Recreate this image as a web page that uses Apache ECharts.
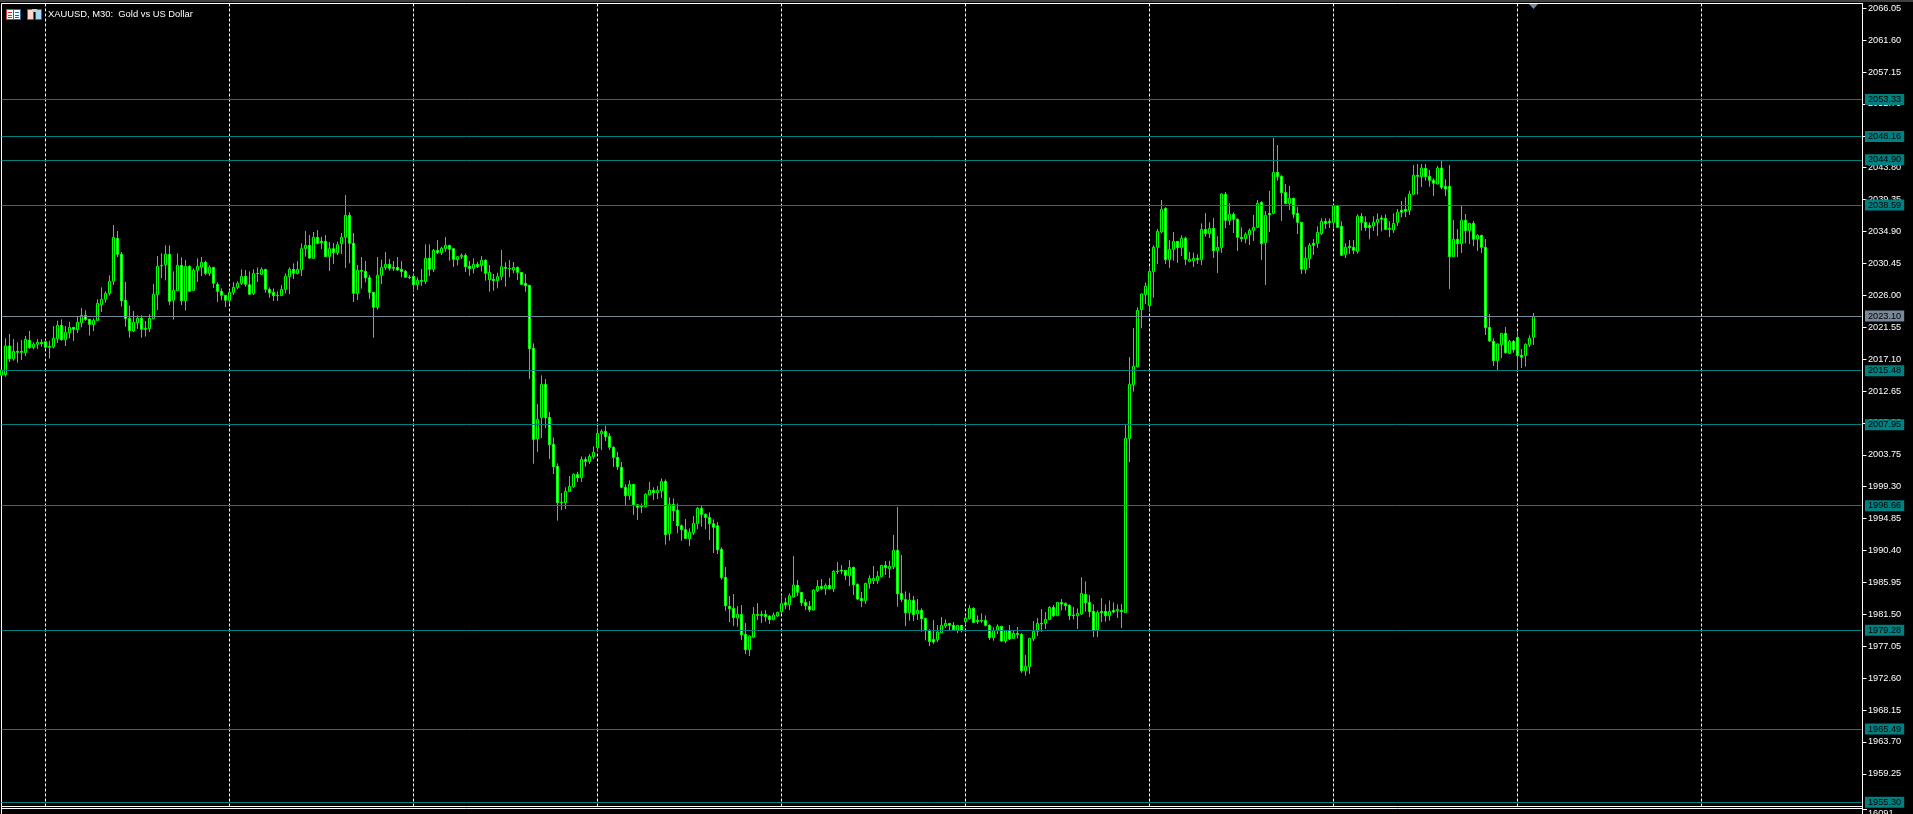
<!DOCTYPE html>
<html>
<head>
<meta charset="utf-8">
<style>html,body{margin:0;padding:0;background:#000;overflow:hidden}#c{width:1913px;height:814px}</style>
<script src="https://cdn.jsdelivr.net/npm/echarts@6/dist/echarts.min.js"></script>
</head>
<body>
<div id="c"></div>
<script>
const chartTitle = 'XAUUSD, M30:  Gold vs US Dollar';
const tickLabels = ['2066.05','2061.60','2057.15','2052.70','2048.25','2043.80','2039.35','2034.90','2030.45','2026.00','2021.55','2017.10','2012.65','2008.20','2003.75','1999.30','1994.85','1990.40','1985.95','1981.50','1977.05','1972.60','1968.15','1963.70','1959.25'];
const levelPrices = [2053.33,2048.16,2044.90,2038.59,2015.48,2007.95,1996.66,1979.28,1965.49,1955.30];
const lastPrice = 2023.10;
const volumeLabel = '16091';
const barDirections = [
'uududduduu','ddduuduudu','udduuuuuud','ddduudduuu','uuduududuu',
'ududddduuu','uddududddd','uuuduuudud','dduduuuddu','dddduuuddd',
'ddddududud','uudduuddud','ududuuddud','dddduudddd','duuududuuu',
'uddddddudd','duuduududd','dduuuddddd','ddddudduud','ddduuuduud',
'ddduududud','dduddduuuu','uduudddudu','dddduuuddu','duuddddduu',
'dududduuuu','duududdddu','uddduddudu','duuuuuuuuu','uduududuud',
'ududuududd','duuuududud','dduddduudu','uddudduddu','ddduuddduu',
'dduududddu','dddudududu','dddduududd','duuu'
].join('');
const highs = [
2015.58,2020.00,2020.60,2019.90,2019.44,2019.76,2020.32,2021.02,2019.44,2019.90,
2019.90,2019.76,2019.67,2021.72,2022.46,2022.65,2021.72,2022.28,2021.53,2023.11,
2024.23,2023.90,2022.65,2022.79,2025.44,2027.11,2026.55,2028.79,2035.81,2034.97,
2032.04,2027.86,2024.55,2023.81,2023.21,2023.21,2022.42,2023.35,2027.58,2031.48,
2031.85,2032.97,2032.97,2029.34,2031.85,2031.30,2030.92,2030.18,2029.76,2031.16,
2031.34,2030.83,2030.18,2029.95,2027.81,2026.97,2026.00,2026.74,2027.81,2027.95,
2029.62,2029.53,2029.34,2029.62,2029.90,2029.90,2029.67,2027.11,2026.97,2026.55,
2027.44,2029.06,2029.90,2030.46,2030.79,2033.25,2034.97,2034.41,2034.83,2035.11,
2034.18,2034.41,2033.44,2033.30,2033.48,2034.69,2039.99,2037.57,2034.69,2030.23,
2031.34,2030.79,2028.83,2026.41,2031.34,2030.97,2032.04,2031.06,2030.79,2031.34,
2030.79,2029.53,2028.83,2029.06,2028.51,2029.67,2033.11,2033.11,2032.46,2033.71,
2032.79,2034.13,2033.02,2032.55,2031.44,2031.85,2031.85,2030.79,2031.16,2030.65,
2031.48,2031.02,2030.23,2028.97,2029.16,2032.32,2030.60,2030.92,2030.65,2029.99,
2029.25,2028.97,2027.39,2019.29,2010.83,2014.83,2014.32,2009.72,2006.18,2002.55,
1998.42,1999.21,2000.79,2001.16,2001.39,2003.53,2003.48,2003.86,2004.93,2007.58,
2007.30,2007.81,2006.74,2004.93,2004.14,2002.74,1999.63,2000.18,1999.67,1996.84,
1996.97,1998.37,1999.95,1999.21,1999.39,2000.46,2000.32,1997.81,1997.67,1996.97,
1994.05,1994.79,1993.49,1995.21,1996.46,1996.74,1995.58,1995.72,1994.74,1994.37,
1990.84,1988.09,1984.05,1984.33,1982.65,1982.79,1980.28,1978.56,1982.51,1983.07,
1982.00,1982.09,1981.35,1981.72,1981.86,1984.19,1983.82,1984.42,1989.63,1986.28,
1984.56,1983.63,1983.35,1985.02,1986.28,1986.42,1985.81,1986.56,1987.67,1988.79,
1988.37,1987.67,1989.07,1988.14,1985.81,1984.61,1985.91,1986.93,1988.23,1987.54,
1988.37,1988.93,1988.98,1992.56,1996.46,1989.77,1984.70,1984.51,1984.05,1983.63,
1982.33,1981.03,1979.40,1980.70,1980.00,1981.12,1980.79,1980.28,1980.42,1980.00,
1980.00,1981.35,1982.75,1982.47,1981.35,1981.63,1981.35,1980.10,1979.68,1980.10,
1979.86,1979.26,1980.00,1979.26,1979.72,1978.89,1975.82,1978.14,1980.56,1980.98,
1982.23,1981.82,1982.65,1982.79,1983.16,1983.63,1983.16,1982.89,1982.51,1982.33,
1986.65,1986.09,1984.19,1982.89,1982.05,1983.77,1982.89,1983.44,1983.16,1982.89,
1982.94,2008.00,2017.39,2021.44,2024.32,2026.27,2027.81,2029.90,2032.97,2035.25,
2039.29,2038.27,2033.71,2034.83,2033.53,2034.37,2034.18,2032.04,2031.95,2031.72,
2036.04,2037.48,2036.18,2036.78,2034.23,2040.22,2040.41,2038.83,2037.57,2036.74,
2035.48,2034.78,2035.34,2037.20,2039.29,2039.11,2037.76,2040.55,2047.94,2046.97,
2042.74,2041.53,2041.25,2039.62,2038.32,2036.23,2032.74,2033.30,2033.85,2035.62,
2036.74,2036.74,2036.74,2038.55,2038.55,2036.32,2033.25,2033.71,2033.71,2037.30,
2037.48,2037.02,2036.18,2037.02,2037.43,2037.16,2037.30,2036.32,2037.43,2038.04,
2039.15,2039.67,2040.55,2044.18,2044.32,2044.32,2044.32,2043.48,2042.32,2044.04,
2044.87,2042.18,2044.18,2036.50,2035.25,2038.46,2037.34,2036.09,2036.37,2034.51,
2034.41,2033.85,2023.39,2020.00,2019.30,2020.74,2021.58,2019.76,2019.76,2020.88,
2018.51,2019.30,2020.42,2023.53
];
const bodyTops = [
2015.58,2018.93,2018.93,2018.18,2018.18,2018.18,2019.86,2019.72,2019.16,2019.44,
2019.44,2019.53,2018.88,2020.00,2021.81,2021.81,2020.83,2021.53,2021.53,2022.23,
2023.21,2023.21,2022.65,2022.51,2024.88,2025.44,2026.27,2027.95,2034.09,2033.95,
2031.72,2025.30,2022.79,2022.23,2022.79,2022.79,2021.39,2022.79,2026.14,2030.04,
2030.18,2031.72,2031.72,2026.69,2030.18,2030.18,2030.04,2030.04,2029.48,2030.04,
2030.60,2030.60,2029.90,2029.90,2027.53,2026.55,2026.00,2026.41,2027.11,2027.67,
2028.65,2028.65,2027.48,2029.06,2029.06,2029.62,2029.62,2026.83,2026.41,2026.00,
2026.83,2028.65,2029.62,2029.62,2029.62,2032.51,2032.97,2032.97,2034.09,2034.09,
2033.53,2033.53,2032.51,2032.51,2033.06,2034.09,2037.16,2037.16,2033.25,2029.48,
2029.48,2029.34,2028.46,2026.41,2028.79,2029.90,2030.32,2030.32,2029.90,2029.90,
2029.62,2029.34,2028.51,2028.65,2028.09,2028.09,2031.16,2031.16,2032.27,2032.27,
2032.55,2032.97,2032.97,2032.51,2031.39,2031.58,2031.58,2030.04,2030.32,2030.32,
2030.88,2030.88,2029.20,2028.23,2028.60,2029.99,2029.90,2029.76,2029.90,2029.90,
2029.20,2027.67,2027.39,2018.60,2008.69,2013.58,2013.58,2008.97,2005.21,2002.14,
1997.11,1998.65,1999.35,2001.02,2001.02,2003.11,2003.11,2003.53,2004.09,2006.74,
2007.02,2007.02,2006.32,2004.79,2003.39,2002.00,1999.21,1999.63,1999.63,1996.79,
1996.65,1998.23,1998.79,1998.79,1998.79,2000.04,2000.04,1996.84,1996.84,1996.00,
1993.86,1993.30,1992.93,1994.18,1996.28,1996.28,1995.44,1995.02,1994.14,1993.86,
1990.56,1986.65,1982.61,1982.33,1981.49,1981.49,1978.70,1978.47,1981.49,1981.49,
1981.49,1981.49,1981.26,1981.40,1981.77,1982.98,1983.12,1984.09,1985.58,1985.54,
1984.56,1983.16,1982.61,1984.88,1985.40,1985.40,1985.54,1985.54,1987.49,1987.54,
1987.67,1987.63,1988.05,1988.05,1985.68,1983.72,1985.81,1986.51,1986.51,1986.79,
1988.33,1988.33,1988.19,1990.42,1990.42,1984.42,1983.58,1983.49,1983.44,1982.05,
1982.05,1980.93,1979.26,1978.00,1979.03,1979.96,1980.24,1980.24,1979.96,1979.96,
1979.96,1980.93,1982.33,1982.33,1980.65,1980.65,1980.65,1979.96,1979.21,1979.82,
1979.82,1979.17,1979.17,1978.84,1978.84,1978.70,1974.24,1978.14,1979.12,1980.24,
1980.24,1980.79,1982.47,1982.47,1983.16,1983.16,1983.02,1982.75,1981.40,1981.63,
1984.42,1984.28,1983.16,1981.91,1981.77,1981.91,1981.91,1981.91,1982.05,1982.19,
1982.05,2006.05,2013.58,2016.09,2023.90,2026.18,2027.25,2029.34,2032.69,2034.92,
2037.99,2038.13,2032.41,2033.53,2033.53,2033.95,2033.95,2031.02,2031.16,2031.16,
2035.20,2035.20,2035.34,2035.34,2032.69,2040.13,2040.09,2037.30,2037.30,2036.60,
2034.09,2034.51,2035.06,2035.48,2038.83,2038.97,2037.16,2037.43,2043.15,2043.15,
2042.60,2040.36,2039.53,2039.53,2037.43,2036.18,2031.16,2032.97,2033.25,2034.78,
2036.32,2036.32,2036.32,2038.55,2038.55,2035.62,2032.69,2032.83,2032.69,2037.02,
2037.02,2036.18,2035.76,2036.18,2036.60,2036.78,2036.74,2035.34,2036.04,2037.57,
2037.85,2037.99,2040.13,2042.74,2042.74,2043.76,2043.71,2042.60,2042.04,2043.76,
2043.76,2041.20,2041.20,2033.81,2033.81,2036.46,2036.46,2036.04,2036.04,2034.37,
2034.37,2032.69,2021.53,2019.58,2019.21,2020.70,2020.70,2019.58,2019.58,2020.14,
2017.63,2019.16,2020.00,2023.07
];
const bodyBottoms = [
2014.84,2014.93,2017.16,2017.16,2018.04,2018.04,2018.00,2018.70,2018.74,2019.16,
2019.25,2018.74,2018.74,2018.83,2019.95,2019.81,2019.81,2020.79,2021.25,2021.21,
2022.18,2022.60,2021.95,2021.90,2022.46,2024.69,2025.44,2026.27,2027.95,2031.72,
2025.25,2022.74,2021.07,2021.02,2022.18,2021.25,2021.25,2021.35,2022.74,2026.09,
2030.09,2030.27,2025.16,2025.30,2026.65,2025.25,2025.25,2026.55,2026.69,2029.48,
2029.90,2029.06,2029.06,2027.67,2026.55,2026.00,2025.30,2025.30,2026.41,2027.11,
2027.67,2027.53,2026.14,2026.23,2029.02,2028.93,2026.83,2026.32,2025.95,2025.95,
2025.95,2026.83,2028.60,2029.06,2029.02,2029.58,2032.51,2031.20,2031.16,2033.25,
2033.34,2031.39,2031.44,2031.95,2031.95,2033.20,2034.09,2033.25,2026.27,2026.27,
2029.34,2028.46,2026.41,2024.32,2024.32,2028.79,2029.86,2029.76,2029.76,2029.53,
2029.30,2028.51,2028.46,2027.48,2027.48,2027.95,2027.90,2029.62,2029.62,2031.95,
2031.95,2032.51,2032.41,2031.02,2030.97,2031.39,2029.99,2029.72,2029.76,2029.99,
2030.18,2029.06,2028.18,2028.04,2028.04,2028.65,2029.76,2029.72,2029.53,2029.20,
2027.53,2027.34,2018.56,2005.90,2006.00,2008.93,2008.93,2005.16,2002.09,1997.07,
1997.02,1997.07,1998.65,1999.30,2000.56,2000.56,2002.83,2002.79,2003.48,2004.74,
2006.69,2006.27,2004.79,2003.39,2002.09,1999.21,1998.04,1998.04,1996.79,1996.42,
1996.51,1996.51,1998.18,1998.46,1998.46,1998.74,1992.60,1992.74,1995.95,1993.86,
1993.30,1992.09,1992.05,1992.88,1994.14,1995.44,1995.02,1994.14,1993.63,1990.51,
1986.61,1982.70,1982.28,1981.03,1980.98,1978.65,1976.56,1976.56,1978.33,1981.35,
1981.35,1981.16,1980.75,1980.75,1981.26,1981.86,1982.79,1982.84,1983.91,1984.56,
1983.12,1982.70,1982.14,1982.09,1984.79,1985.07,1985.07,1985.07,1985.07,1987.44,
1987.54,1986.93,1986.88,1985.63,1983.63,1983.40,1983.40,1985.81,1986.19,1986.19,
1986.74,1988.00,1987.86,1988.14,1984.37,1983.58,1981.72,1981.72,1981.44,1981.58,
1980.89,1979.26,1977.72,1977.63,1977.96,1978.93,1979.86,1979.96,1979.35,1979.26,
1979.26,1980.47,1980.89,1980.37,1980.47,1980.56,1979.96,1978.24,1978.24,1979.26,
1977.77,1977.77,1978.05,1978.14,1978.70,1973.63,1973.63,1974.19,1978.10,1979.12,
1980.14,1980.24,1980.79,1981.30,1981.30,1982.93,1982.70,1981.30,1981.30,1981.30,
1981.54,1983.12,1981.86,1979.26,1979.35,1981.72,1981.30,1981.30,1981.82,1982.00,
1981.87,1981.73,2006.00,2013.53,2016.04,2024.00,2026.09,2024.55,2029.30,2032.69,
2034.83,2030.97,2030.97,2032.41,2032.65,2032.65,2031.02,2030.74,2030.83,2030.97,
2030.97,2034.60,2034.60,2032.23,2032.23,2032.65,2036.46,2036.41,2036.60,2034.09,
2033.90,2033.90,2034.46,2035.06,2035.48,2033.20,2033.34,2037.25,2037.43,2042.55,
2040.32,2038.78,2038.78,2037.30,2036.18,2029.62,2029.62,2031.11,2032.97,2033.25,
2034.60,2035.99,2036.13,2036.18,2035.48,2031.58,2031.72,2032.65,2032.27,2032.13,
2036.18,2035.44,2035.44,2035.67,2036.18,2036.60,2035.20,2035.20,2035.11,2036.18,
2037.57,2037.71,2037.85,2040.09,2042.60,2042.55,2042.55,2042.04,2041.62,2041.53,
2041.06,2040.83,2031.39,2031.39,2033.20,2033.20,2035.02,2035.02,2033.81,2033.85,
2032.69,2021.49,2019.63,2016.88,2016.88,2019.11,2018.00,2017.91,2018.42,2017.58,
2017.35,2017.58,2019.11,2020.14
];
const lows = [
2014.74,2014.65,2016.70,2016.88,2016.60,2016.97,2017.53,2018.56,2018.46,2018.51,
2018.83,2018.51,2017.16,2018.60,2019.35,2019.67,2018.93,2020.00,2019.63,2020.74,
2021.53,2022.46,2020.37,2021.02,2022.46,2023.67,2024.97,2025.95,2027.44,2031.34,
2024.41,2021.62,2020.09,2020.88,2021.30,2020.09,2020.23,2020.88,2022.65,2023.95,
2028.41,2028.09,2024.65,2022.60,2026.60,2024.65,2023.86,2026.51,2026.65,2027.86,
2028.69,2028.79,2028.69,2027.02,2025.07,2025.30,2024.37,2024.74,2026.04,2026.83,
2027.44,2027.20,2026.09,2026.04,2027.86,2028.83,2026.37,2025.67,2025.21,2025.21,
2025.90,2026.27,2026.18,2028.27,2028.93,2028.69,2031.39,2031.06,2031.06,2033.11,
2032.46,2031.34,2029.39,2030.37,2031.62,2031.76,2029.81,2030.46,2025.07,2025.34,
2026.93,2027.81,2025.48,2020.09,2024.00,2027.58,2029.53,2029.44,2029.39,2029.39,
2028.51,2028.41,2028.23,2026.51,2026.74,2027.30,2027.58,2028.69,2029.25,2031.76,
2031.62,2032.09,2030.83,2029.95,2030.18,2031.06,2029.25,2028.74,2029.06,2029.81,
2029.30,2028.04,2026.51,2026.65,2026.97,2028.09,2027.20,2028.51,2029.06,2028.13,
2027.44,2026.51,2014.32,2002.51,2004.14,2006.09,2007.48,2003.16,2001.07,1994.56,
1996.04,1996.18,1998.60,1999.16,1999.95,1999.95,2002.09,2002.46,2003.16,2004.28,
2004.41,2005.67,2004.41,2002.04,2001.62,1999.16,1996.60,1997.44,1995.35,1994.65,
1995.63,1996.42,1998.09,1997.44,1997.58,1997.72,1991.21,1991.77,1994.51,1992.79,
1991.77,1992.00,1991.02,1992.56,1993.39,1993.72,1993.35,1991.86,1990.05,1989.91,
1986.33,1982.00,1980.42,1979.86,1979.77,1977.91,1975.96,1975.68,1978.24,1980.70,
1980.28,1980.47,1980.14,1980.65,1981.16,1981.54,1982.23,1982.09,1983.86,1984.05,
1982.65,1982.09,1981.82,1982.00,1984.61,1984.88,1984.19,1984.98,1984.61,1987.12,
1987.12,1986.28,1985.44,1984.19,1983.49,1982.51,1982.93,1985.07,1985.72,1985.72,
1986.65,1986.98,1986.56,1987.81,1982.56,1983.21,1979.86,1980.61,1980.56,1980.70,
1979.07,1977.86,1977.07,1977.35,1977.63,1978.89,1979.58,1979.26,1979.26,1978.89,
1978.98,1980.00,1980.79,1980.28,1980.14,1980.28,1979.82,1977.91,1977.82,1978.75,
1977.63,1977.49,1977.91,1978.05,1978.14,1973.35,1972.93,1973.17,1977.77,1978.47,
1979.07,1979.44,1980.70,1981.16,1981.26,1982.05,1982.05,1980.70,1980.79,1979.44,
1981.40,1981.86,1981.12,1978.33,1978.33,1980.42,1980.47,1980.61,1981.63,1980.98,
1979.59,1981.73,2002.75,2012.56,2015.95,2021.39,2024.79,2023.72,2025.67,2030.37,
2034.64,2030.37,2029.81,2030.83,2030.51,2031.48,2030.23,2030.60,2029.95,2030.37,
2030.23,2034.18,2033.99,2031.20,2029.11,2031.90,2035.39,2035.81,2034.69,2032.18,
2033.44,2033.25,2033.02,2033.58,2035.39,2030.92,2027.44,2034.83,2037.34,2041.99,
2036.37,2038.74,2037.90,2036.74,2034.55,2028.97,2029.02,2029.81,2031.62,2032.60,
2034.41,2035.25,2035.39,2035.39,2035.39,2031.48,2031.20,2031.76,2031.76,2031.81,
2035.02,2034.97,2033.81,2034.97,2034.27,2034.92,2035.06,2034.13,2034.69,2035.67,
2036.88,2036.92,2037.20,2040.09,2040.04,2041.11,2041.99,2041.15,2039.85,2041.48,
2040.78,2039.85,2026.88,2031.39,2031.34,2031.90,2033.25,2033.16,2032.88,2032.18,
2031.90,2020.46,2019.49,2016.14,2015.58,2017.25,2017.86,2017.81,2018.00,2015.58,
2015.86,2016.05,2018.79,2019.07
];

const lens = [barDirections.length, highs.length, bodyTops.length, bodyBottoms.length, lows.length];
if (lens.some(n => n !== lens[0])) throw new Error('length mismatch ' + lens.join(','));

const slotCount = 466;
const slots = Array.from({length: slotCount}, (_, i) => String(i));
const candles = barDirections.split('').map((d, i) => d === 'u'
  ? [bodyBottoms[i], bodyTops[i], lows[i], highs[i]]
  : [bodyTops[i], bodyBottoms[i], lows[i], highs[i]]);

const axisFont = {fontFamily: '"Liberation Sans"', fontSize: 9.2};
const mkLevel = (v, bg) => ({
  yAxis: v,
  lineStyle: {color: bg, width: 1, type: 'solid'},
  label: {
    show: true, position: 'end', distance: 3.5, formatter: v.toFixed(2),
    backgroundColor: bg, color: '#000', padding: [1, 3, 1, 3], lineHeight: 9,
    ...axisFont
  }
});

const white = '#fff';
const line = (x1, y1, x2, y2, stroke) => ({type: 'line', silent: true, shape: {x1, y1, x2, y2}, style: {stroke: stroke || white, lineWidth: 1}});
const rect = (x, y, width, height, fill, stroke) => ({type: 'rect', silent: true, shape: {x, y, width, height}, style: {fill, stroke: stroke || null, lineWidth: 1}});

const chart = echarts.init(document.getElementById('c'), null, {renderer: 'canvas'});
chart.setOption({
  animation: false,
  backgroundColor: '#000',
  title: {
    text: chartTitle, left: 48, top: 9.5, padding: 0,
    textStyle: {color: white, fontWeight: 'normal', fontFamily: '"Liberation Sans"', fontSize: 9.4}
  },
  grid: {left: 1.5, top: 3.5, width: 1860, height: 803, containLabel: false},
  xAxis: {
    type: 'category', data: slots, boundaryGap: false,
    axisLine: {show: false}, axisTick: {show: false}, axisLabel: {show: false},
    splitLine: {
      show: true,
      interval: (index) => (index - 11) % 46 === 0,
      lineStyle: {color: white, width: 1, type: [3, 2]}
    }
  },
  yAxis: {
    type: 'value', position: 'right', offset: 1, min: 1954.69, max: 2066.706, scale: true,
    axisLine: {show: true, lineStyle: {color: white, width: 1}},
    axisTick: {show: true, length: 4, inside: false, lineStyle: {color: white, width: 1}, customValues: tickLabels.map(Number)},
    axisLabel: {show: true, color: white, margin: 5.5, padding: [1, 0, 0, 0], customValues: tickLabels.map(Number), formatter: v => v.toFixed(2), ...axisFont},
    splitLine: {show: false}
  },
  series: [
    {
      type: 'line', data: [], z: 1, silent: true, symbol: 'none',
      markLine: {
        silent: true, symbol: 'none', animation: false,
        data: levelPrices.map(v => mkLevel(v, '#008080')).concat([mkLevel(lastPrice, '#778899')])
      }
    },
    {
      type: 'candlestick', data: candles, z: 3, barWidth: 3, silent: true,
      itemStyle: {color: '#000', color0: '#fff', borderColor: '#00ff00', borderColor0: '#00ff00', borderWidth: 1}
    }
  ],
  graphic: [
    rect(0, 0, 1913, 2, '#404040'),
    rect(1.5, 3.5, 1861, 803, 'transparent', white),
    line(1.5, 806.5, 1.5, 814),
    line(1862.5, 806.5, 1862.5, 814),
    line(1.5, 808.5, 1862.5, 808.5),
    line(1862.5, 809.5, 1867, 809.5),
    {type: 'text', silent: true, style: {x: 1868, y: 809, text: volumeLabel, fill: white, font: '9.2px "Liberation Sans"'}},
    {type: 'polygon', silent: true, shape: {points: [[1529, 4], [1538, 4], [1533.5, 9]]}, style: {fill: '#778899'}},
    rect(6.5, 9.5, 7, 10, '#fff', '#d23c2a'), rect(8, 12, 4, 1, '#d23c2a'), rect(8, 15, 4, 1, '#d23c2a'), rect(8, 17, 4, 1, '#d23c2a'),
    rect(13.5, 9.5, 7, 10, '#fff', '#1c6aa8'), rect(15, 12, 4, 1, '#1c6aa8'), rect(15, 15, 4, 1, '#1c6aa8'), rect(15, 17, 4, 1, '#1c6aa8'),
    rect(27.5, 9.5, 6, 10, '#ffd9cf', '#d23c2a'),
    rect(35.5, 9.5, 6, 10, '#a9d8f5', '#1c6aa8'),
    rect(32, 9, 5, 3, '#cfcfcf')
  ]
});
</script>
</body>
</html>
